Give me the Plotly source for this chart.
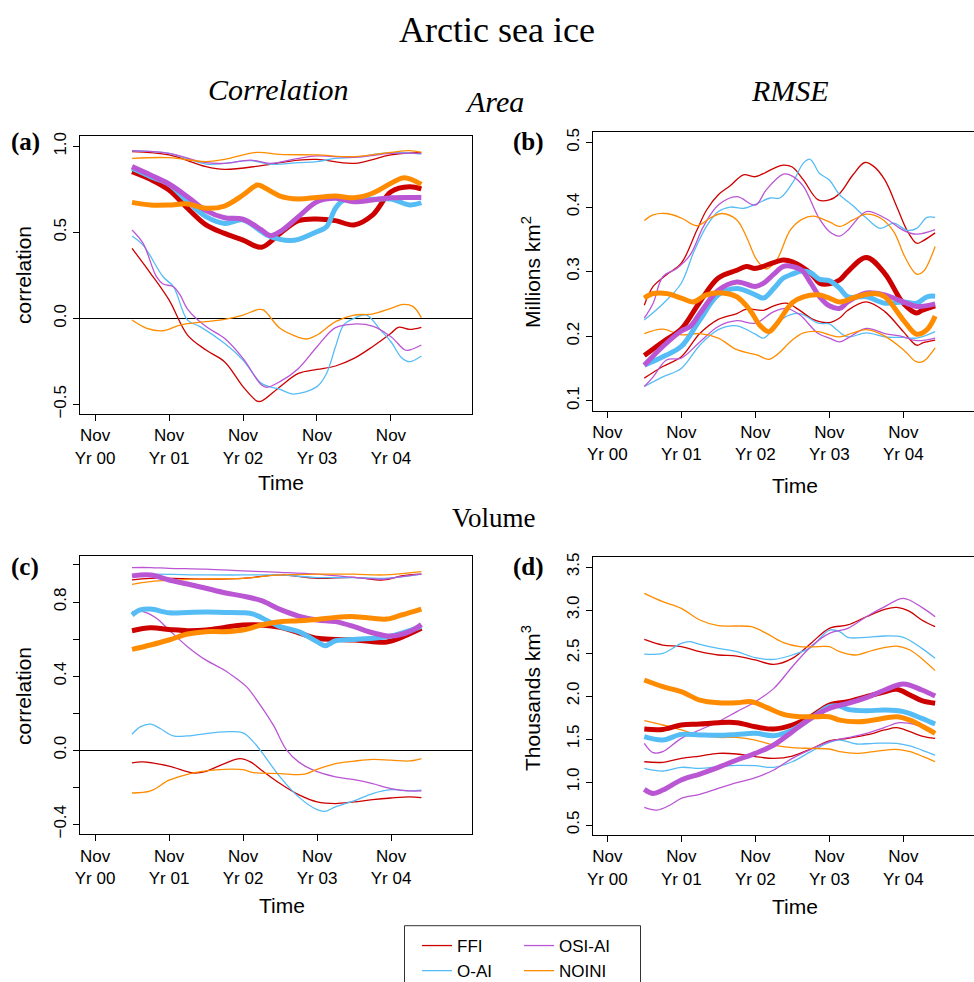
import plotly.graph_objects as go

# ---------------- data (time in years after Nov Yr 00, values) ----------------
# Panel (a): Area correlation
a_ffi_mid = [(0.5,0.853),(0.75,0.808),(1.0,0.746),(1.25,0.64),(1.5,0.543),(1.75,0.494),(2.0,0.455),(2.25,0.413),(2.5,0.494),(2.75,0.568),(3.0,0.578),(3.25,0.568),(3.5,0.543),(3.75,0.60),(4.0,0.736),(4.25,0.765),(4.41,0.752)]
a_ffi_hi = [(0.5,0.969),(1.0,0.95),(1.5,0.882),(1.75,0.866),(2.25,0.888),(2.75,0.92),(3.0,0.924),(3.5,0.901),(4.0,0.95),(4.41,0.965)]
a_ffi_lo = [(0.5,0.407),(0.75,0.262),(1.0,0.107),(1.25,-0.097),(1.5,-0.184),(1.75,-0.252),(2.0,-0.397),(2.19,-0.481),(2.25,-0.481),(2.5,-0.397),(2.75,-0.32),(3.0,-0.297),(3.25,-0.277),(3.5,-0.233),(3.75,-0.165),(4.0,-0.087),(4.1,-0.052),(4.25,-0.064),(4.41,-0.052)]
a_oai_mid = [(0.5,0.872),(0.75,0.824),(1.0,0.779),(1.25,0.678),(1.5,0.591),(1.75,0.552),(2.0,0.572),(2.25,0.504),(2.32,0.485),(2.5,0.459),(2.64,0.452),(2.75,0.459),(3.0,0.504),(3.13,0.533),(3.25,0.64),(3.36,0.688),(3.5,0.694),(3.75,0.692),(4.0,0.694),(4.25,0.659),(4.41,0.672)]
a_oai_hi = [(0.5,0.973),(1.0,0.959),(1.5,0.897),(1.75,0.901),(2.1,0.917),(2.37,0.895),(2.75,0.905),(3.0,0.911),(3.25,0.93),(3.5,0.936),(4.0,0.963),(4.41,0.955)]
a_oai_lo = [(0.5,0.479),(0.65,0.426),(0.92,0.242),(1.06,0.184),(1.25,-0.01),(1.42,-0.048),(1.75,-0.145),(2.0,-0.242),(2.25,-0.378),(2.5,-0.413),(2.68,-0.44),(3.0,-0.397),(3.13,-0.32),(3.25,-0.165),(3.36,-0.039),(3.5,0.0),(3.67,0.019),(3.85,-0.064),(4.0,-0.136),(4.14,-0.227),(4.25,-0.252),(4.41,-0.219)]
a_osi_mid = [(0.5,0.882),(0.75,0.833),(1.0,0.781),(1.25,0.707),(1.5,0.626),(1.75,0.585),(2.0,0.576),(2.25,0.514),(2.37,0.481),(2.5,0.504),(2.75,0.591),(3.0,0.678),(3.25,0.698),(3.5,0.678),(3.75,0.688),(4.0,0.701),(4.25,0.703),(4.41,0.703)]
a_osi_hi = [(0.5,0.975),(1.0,0.959),(1.5,0.905),(1.75,0.901),(2.1,0.92),(2.37,0.901),(2.75,0.93),(3.0,0.944),(3.5,0.936),(4.0,0.959),(4.41,0.959)]
a_osi_lo = [(0.5,0.514),(0.65,0.436),(0.83,0.242),(0.92,0.2),(1.06,0.184),(1.15,0.136),(1.25,0.054),(1.5,-0.048),(1.75,-0.116),(2.0,-0.233),(2.25,-0.388),(2.32,-0.401),(2.5,-0.368),(2.75,-0.291),(3.0,-0.165),(3.25,-0.054),(3.5,-0.033),(3.75,-0.045),(4.0,-0.107),(4.19,-0.184),(4.25,-0.184),(4.41,-0.155)]
a_noi_mid = [(0.5,0.674),(0.75,0.659),(1.0,0.659),(1.25,0.665),(1.5,0.64),(1.75,0.653),(2.0,0.717),(2.19,0.775),(2.25,0.769),(2.5,0.711),(2.75,0.694),(3.0,0.703),(3.25,0.711),(3.5,0.701),(3.75,0.727),(4.0,0.785),(4.18,0.818),(4.41,0.779)]
a_noi_hi = [(0.5,0.93),(1.0,0.934),(1.5,0.911),(1.75,0.924),(2.19,0.965),(2.5,0.953),(3.0,0.95),(3.5,0.94),(4.0,0.965),(4.25,0.975),(4.41,0.965)]
a_noi_lo = [(0.5,-0.01),(0.7,-0.058),(0.92,-0.072),(1.15,-0.039),(1.5,-0.019),(1.75,-0.006),(2.0,0.019),(2.21,0.052),(2.28,0.048),(2.5,-0.058),(2.75,-0.11),(2.86,-0.12),(3.0,-0.097),(3.25,-0.019),(3.5,0.019),(3.75,0.025),(4.0,0.058),(4.17,0.081),(4.3,0.068),(4.41,0.004)]

# Panel (b): Area RMSE (million km2)
b_ffi_mid = [(0.5,0.170),(0.75,0.191),(1.0,0.211),(1.25,0.253),(1.5,0.290),(1.75,0.302),(1.88,0.308),(2.0,0.305),(2.25,0.314),(2.38,0.318),(2.5,0.315),(2.75,0.297),(2.87,0.282),(3.0,0.281),(3.14,0.287),(3.25,0.3),(3.5,0.322),(3.75,0.297),(4.0,0.251),(4.18,0.236),(4.25,0.240),(4.43,0.247)]
b_ffi_hi = [(0.5,0.248),(0.62,0.277),(0.8,0.295),(1.0,0.313),(1.21,0.364),(1.34,0.395),(1.5,0.419),(1.66,0.433),(1.84,0.45),(2.0,0.447),(2.25,0.46),(2.38,0.465),(2.5,0.462),(2.65,0.442),(2.85,0.411),(3.0,0.411),(3.14,0.421),(3.32,0.45),(3.48,0.469),(3.6,0.463),(3.75,0.442),(3.91,0.401),(4.05,0.364),(4.18,0.344),(4.27,0.348),(4.43,0.360)]
b_ffi_lo = [(0.5,0.135),(0.75,0.153),(1.0,0.168),(1.25,0.204),(1.5,0.226),(1.75,0.235),(1.88,0.242),(2.11,0.24),(2.25,0.247),(2.42,0.251),(2.6,0.24),(2.78,0.226),(3.0,0.221),(3.14,0.228),(3.25,0.24),(3.5,0.253),(3.75,0.238),(4.0,0.207),(4.18,0.186),(4.27,0.19),(4.43,0.194)]
b_oai_mid = [(0.5,0.155),(0.75,0.168),(1.0,0.184),(1.25,0.225),(1.5,0.264),(1.75,0.274),(2.0,0.264),(2.11,0.259),(2.25,0.274),(2.38,0.290),(2.5,0.296),(2.63,0.301),(2.75,0.298),(2.87,0.288),(3.0,0.286),(3.14,0.274),(3.25,0.261),(3.5,0.261),(3.75,0.251),(4.0,0.253),(4.18,0.251),(4.32,0.261),(4.43,0.262)]
b_oai_hi = [(0.5,0.225),(0.76,0.251),(1.0,0.282),(1.16,0.328),(1.34,0.370),(1.5,0.393),(1.66,0.40),(1.84,0.398),(2.02,0.405),(2.2,0.414),(2.33,0.414),(2.5,0.437),(2.65,0.468),(2.74,0.474),(2.87,0.452),(3.0,0.442),(3.14,0.419),(3.32,0.402),(3.5,0.383),(3.69,0.367),(3.87,0.375),(4.05,0.364),(4.18,0.367),(4.32,0.384),(4.43,0.384)]
b_oai_lo = [(0.5,0.122),(0.75,0.137),(1.0,0.150),(1.25,0.186),(1.5,0.21),(1.75,0.216),(2.0,0.203),(2.11,0.197),(2.25,0.212),(2.38,0.228),(2.6,0.235),(2.85,0.22),(3.0,0.219),(3.1,0.21),(3.25,0.199),(3.5,0.205),(3.75,0.199),(4.0,0.198),(4.18,0.197),(4.43,0.207)]
b_osi_mid = [(0.5,0.155),(0.75,0.184),(1.0,0.208),(1.12,0.215),(1.25,0.235),(1.5,0.271),(1.75,0.284),(2.0,0.277),(2.11,0.282),(2.25,0.296),(2.38,0.308),(2.5,0.308),(2.63,0.302),(2.75,0.282),(2.87,0.261),(3.0,0.247),(3.14,0.243),(3.25,0.253),(3.5,0.267),(3.75,0.264),(4.0,0.253),(4.18,0.246),(4.43,0.25)]
b_osi_hi = [(0.5,0.228),(0.62,0.251),(0.75,0.292),(0.94,0.305),(1.12,0.326),(1.3,0.37),(1.5,0.403),(1.75,0.416),(2.0,0.403),(2.15,0.427),(2.38,0.451),(2.5,0.448),(2.65,0.432),(2.85,0.385),(3.0,0.362),(3.14,0.355),(3.25,0.364),(3.5,0.393),(3.75,0.383),(4.0,0.364),(4.18,0.358),(4.43,0.365)]
b_osi_lo = [(0.5,0.122),(0.62,0.137),(0.8,0.163),(1.0,0.166),(1.25,0.191),(1.5,0.215),(1.75,0.224),(2.0,0.22),(2.25,0.238),(2.42,0.243),(2.6,0.233),(2.85,0.204),(3.0,0.197),(3.14,0.191),(3.25,0.197),(3.5,0.212),(3.75,0.204),(4.0,0.199),(4.18,0.193),(4.43,0.197)]
b_noi_mid = [(0.5,0.259),(0.62,0.266),(0.8,0.266),(1.0,0.259),(1.16,0.253),(1.34,0.264),(1.55,0.267),(1.75,0.261),(1.93,0.240),(2.06,0.217),(2.18,0.207),(2.29,0.219),(2.5,0.252),(2.65,0.261),(2.85,0.264),(3.0,0.259),(3.14,0.253),(3.37,0.261),(3.6,0.266),(3.75,0.261),(4.0,0.225),(4.18,0.203),(4.32,0.21),(4.43,0.231)]
b_noi_hi = [(0.5,0.379),(0.62,0.388),(0.8,0.39),(1.0,0.383),(1.21,0.371),(1.39,0.383),(1.55,0.39),(1.75,0.38),(1.88,0.354),(2.02,0.318),(2.15,0.304),(2.29,0.318),(2.47,0.364),(2.63,0.381),(2.78,0.386),(3.0,0.377),(3.14,0.37),(3.32,0.38),(3.5,0.389),(3.69,0.383),(3.87,0.362),(4.02,0.323),(4.18,0.296),(4.27,0.3),(4.43,0.339)]
b_noi_lo = [(0.5,0.204),(0.75,0.211),(1.0,0.202),(1.25,0.204),(1.5,0.197),(1.75,0.179),(2.02,0.171),(2.18,0.164),(2.29,0.171),(2.5,0.194),(2.65,0.205),(2.85,0.207),(3.0,0.202),(3.14,0.199),(3.32,0.205),(3.5,0.21),(3.75,0.2),(4.0,0.179),(4.18,0.16),(4.27,0.161),(4.43,0.182)]

# Panel (c): Volume correlation
c_ffi_mid = [(0.5,0.645),(0.75,0.661),(1.0,0.652),(1.25,0.645),(1.5,0.649),(1.75,0.663),(2.0,0.676),(2.25,0.676),(2.5,0.663),(2.75,0.634),(3.0,0.604),(3.25,0.598),(3.5,0.595),(3.75,0.586),(3.94,0.584),(4.14,0.609),(4.41,0.658)]
c_ffi_hi = [(0.5,0.919),(0.75,0.928),(1.5,0.924),(2.0,0.928),(2.5,0.946),(3.0,0.928),(3.5,0.933),(3.9,0.919),(4.14,0.941),(4.41,0.95)]
c_ffi_lo = [(0.5,-0.068),(0.65,-0.063),(1.0,-0.086),(1.33,-0.123),(1.5,-0.114),(1.75,-0.072),(1.96,-0.045),(2.1,-0.063),(2.25,-0.108),(2.5,-0.18),(2.75,-0.24),(3.0,-0.279),(3.25,-0.288),(3.5,-0.279),(3.75,-0.267),(4.0,-0.258),(4.25,-0.252),(4.41,-0.256)]
c_oai_mid = [(0.5,0.73),(0.61,0.757),(0.75,0.762),(1.0,0.742),(1.25,0.744),(1.5,0.746),(1.75,0.744),(2.0,0.742),(2.14,0.735),(2.25,0.715),(2.5,0.667),(2.75,0.64),(3.0,0.586),(3.11,0.564),(3.25,0.591),(3.5,0.598),(3.75,0.604),(4.0,0.616),(4.25,0.645),(4.41,0.67)]
c_oai_hi = [(0.5,0.946),(0.75,0.95),(1.5,0.946),(2.0,0.946),(2.5,0.946),(3.0,0.932),(3.5,0.932),(3.9,0.928),(4.41,0.951)]
c_oai_lo = [(0.5,0.086),(0.61,0.126),(0.75,0.141),(0.88,0.117),(1.06,0.077),(1.25,0.077),(1.5,0.09),(1.75,0.099),(2.0,0.094),(2.14,0.045),(2.25,-0.009),(2.5,-0.144),(2.75,-0.252),(3.0,-0.321),(3.11,-0.33),(3.25,-0.306),(3.5,-0.274),(3.75,-0.234),(4.0,-0.213),(4.25,-0.22),(4.41,-0.216)]
c_osi_mid = [(0.5,0.941),(0.75,0.946),(1.0,0.919),(1.25,0.897),(1.5,0.874),(1.75,0.85),(2.0,0.832),(2.25,0.807),(2.5,0.76),(2.75,0.724),(3.0,0.703),(3.25,0.694),(3.5,0.667),(3.75,0.634),(4.0,0.616),(4.25,0.64),(4.41,0.679)]
c_osi_hi = [(0.5,0.986),(0.75,0.986),(1.0,0.982),(1.5,0.977),(2.0,0.968),(2.5,0.96),(3.0,0.95),(3.5,0.933),(3.9,0.923),(4.14,0.937),(4.41,0.95)]
c_osi_lo = [(0.5,0.748),(0.65,0.748),(0.83,0.712),(1.0,0.649),(1.25,0.559),(1.5,0.486),(1.75,0.432),(1.91,0.387),(2.05,0.342),(2.25,0.234),(2.41,0.135),(2.59,0.0),(2.75,-0.063),(2.95,-0.108),(3.25,-0.144),(3.5,-0.159),(3.75,-0.18),(4.0,-0.207),(4.25,-0.22),(4.41,-0.22)]
c_noi_mid = [(0.5,0.544),(0.75,0.568),(1.0,0.595),(1.25,0.627),(1.5,0.64),(1.75,0.64),(2.0,0.649),(2.25,0.676),(2.5,0.694),(2.75,0.699),(3.0,0.706),(3.25,0.717),(3.5,0.721),(3.75,0.712),(3.94,0.708),(4.14,0.73),(4.41,0.762)]
c_noi_hi = [(0.5,0.895),(0.75,0.91),(1.5,0.924),(2.0,0.928),(2.5,0.946),(3.0,0.95),(3.5,0.95),(3.9,0.946),(4.41,0.964)]
c_noi_lo = [(0.5,-0.231),(0.75,-0.22),(1.0,-0.162),(1.25,-0.13),(1.5,-0.112),(1.75,-0.103),(2.0,-0.105),(2.14,-0.121),(2.5,-0.126),(2.75,-0.132),(2.86,-0.126),(3.0,-0.103),(3.25,-0.072),(3.5,-0.059),(3.75,-0.05),(4.0,-0.054),(4.25,-0.058),(4.41,-0.045)]

# Panel (d): Volume RMSE (thousand km3)
d_ffi_mid = [(0.5,1.616),(0.75,1.612),(1.0,1.663),(1.25,1.674),(1.5,1.69),(1.75,1.69),(2.0,1.643),(2.25,1.616),(2.5,1.663),(2.75,1.76),(3.0,1.895),(3.25,1.934),(3.5,1.992),(3.75,2.05),(3.91,2.078),(4.09,2.012),(4.25,1.946),(4.43,1.915)]
d_ffi_hi = [(0.5,2.659),(0.75,2.593),(1.0,2.574),(1.25,2.516),(1.5,2.477),(1.75,2.465),(2.0,2.419),(2.25,2.368),(2.5,2.438),(2.75,2.612),(3.0,2.787),(3.25,2.826),(3.5,2.922),(3.75,3.008),(3.91,3.031),(4.09,2.981),(4.25,2.884),(4.43,2.806)]
d_ffi_lo = [(0.5,1.236),(0.75,1.229),(1.0,1.275),(1.25,1.302),(1.5,1.333),(1.75,1.326),(2.0,1.295),(2.25,1.275),(2.5,1.302),(2.75,1.384),(3.0,1.477),(3.25,1.508),(3.5,1.547),(3.75,1.605),(3.91,1.632),(4.09,1.585),(4.25,1.535),(4.43,1.508)]
d_oai_mid = [(0.5,1.527),(0.75,1.488),(1.0,1.554),(1.25,1.547),(1.5,1.543),(1.75,1.554),(2.0,1.566),(2.25,1.539),(2.5,1.605),(2.75,1.74),(3.0,1.876),(3.14,1.884),(3.25,1.845),(3.5,1.829),(3.75,1.837),(4.0,1.818),(4.25,1.74),(4.43,1.674)]
d_oai_hi = [(0.5,2.488),(0.75,2.496),(1.0,2.612),(1.12,2.632),(1.25,2.601),(1.5,2.554),(1.75,2.516),(2.0,2.446),(2.25,2.426),(2.5,2.477),(2.75,2.566),(3.0,2.767),(3.14,2.748),(3.25,2.682),(3.5,2.682),(3.75,2.698),(4.0,2.682),(4.25,2.554),(4.43,2.438)]
d_oai_lo = [(0.5,1.159),(0.75,1.128),(1.0,1.171),(1.25,1.159),(1.5,1.178),(1.75,1.194),(2.0,1.19),(2.25,1.171),(2.5,1.236),(2.75,1.353),(3.0,1.461),(3.14,1.488),(3.37,1.442),(3.6,1.45),(3.91,1.45),(4.09,1.419),(4.25,1.372),(4.43,1.314)]
d_osi_mid = [(0.5,0.915),(0.62,0.868),(0.75,0.907),(1.0,1.023),(1.25,1.093),(1.5,1.171),(1.75,1.256),(2.0,1.333),(2.25,1.43),(2.5,1.585),(2.75,1.74),(3.0,1.857),(3.25,1.915),(3.5,1.981),(3.75,2.07),(4.0,2.14),(4.25,2.07),(4.43,2.0)]
d_osi_hi = [(0.5,1.45),(0.62,1.341),(0.75,1.353),(1.0,1.508),(1.25,1.605),(1.5,1.702),(1.75,1.818),(2.0,1.934),(2.25,2.089),(2.5,2.341),(2.75,2.574),(3.0,2.729),(3.25,2.787),(3.5,2.922),(3.75,3.039),(4.0,3.136),(4.25,3.031),(4.43,2.922)]
d_osi_lo = [(0.5,0.705),(0.67,0.674),(0.85,0.733),(1.0,0.81),(1.25,0.857),(1.5,0.926),(1.75,0.992),(2.0,1.05),(2.25,1.14),(2.5,1.275),(2.75,1.38),(3.0,1.469),(3.25,1.516),(3.5,1.566),(3.75,1.636),(3.95,1.69),(4.18,1.663),(4.43,1.585)]
d_noi_mid = [(0.5,2.186),(0.75,2.109),(1.0,2.05),(1.25,1.953),(1.5,1.922),(1.75,1.922),(1.95,1.934),(2.15,1.868),(2.38,1.787),(2.6,1.76),(2.85,1.76),(3.0,1.76),(3.14,1.72),(3.37,1.70),(3.6,1.72),(3.91,1.76),(4.09,1.72),(4.27,1.643),(4.43,1.566)]
d_noi_hi = [(0.5,3.194),(0.75,3.097),(1.0,3.019),(1.25,2.884),(1.5,2.818),(1.75,2.814),(1.95,2.806),(2.15,2.729),(2.38,2.62),(2.6,2.574),(2.85,2.574),(3.0,2.574),(3.14,2.516),(3.35,2.477),(3.6,2.535),(3.91,2.581),(4.09,2.535),(4.27,2.419),(4.43,2.295)]
d_noi_lo = [(0.5,1.713),(0.75,1.663),(1.0,1.605),(1.25,1.547),(1.5,1.519),(1.75,1.519),(2.0,1.488),(2.25,1.43),(2.5,1.399),(2.75,1.391),(3.0,1.384),(3.14,1.353),(3.37,1.333),(3.6,1.353),(3.91,1.38),(4.09,1.353),(4.27,1.295),(4.43,1.236)]

model_names = ["FFI", "O-AI", "OSI-AI", "NOINI"]
tick_years = [0, 1, 2, 3, 4]
tick_labels = ["Nov<br>Yr 00", "Nov<br>Yr 01", "Nov<br>Yr 02", "Nov<br>Yr 03", "Nov<br>Yr 04"]

panels = {
    "a": {"FFI": (a_ffi_mid, a_ffi_hi, a_ffi_lo), "O-AI": (a_oai_mid, a_oai_hi, a_oai_lo),
          "OSI-AI": (a_osi_mid, a_osi_hi, a_osi_lo), "NOINI": (a_noi_mid, a_noi_hi, a_noi_lo)},
    "b": {"FFI": (b_ffi_mid, b_ffi_hi, b_ffi_lo), "O-AI": (b_oai_mid, b_oai_hi, b_oai_lo),
          "OSI-AI": (b_osi_mid, b_osi_hi, b_osi_lo), "NOINI": (b_noi_mid, b_noi_hi, b_noi_lo)},
    "c": {"FFI": (c_ffi_mid, c_ffi_hi, c_ffi_lo), "O-AI": (c_oai_mid, c_oai_hi, c_oai_lo),
          "OSI-AI": (c_osi_mid, c_osi_hi, c_osi_lo), "NOINI": (c_noi_mid, c_noi_hi, c_noi_lo)},
    "d": {"FFI": (d_ffi_mid, d_ffi_hi, d_ffi_lo), "O-AI": (d_oai_mid, d_oai_hi, d_oai_lo),
          "OSI-AI": (d_osi_mid, d_osi_hi, d_osi_lo), "NOINI": (d_noi_mid, d_noi_hi, d_noi_lo)},
}

# ---------------- styling / layout ----------------
W, H = 974, 982
def px(x): return x / W
def py(y): return 1 - y / H

colors = {"FFI": "#CD0000", "O-AI": "#56BCF5", "OSI-AI": "#BA55D3", "NOINI": "#FF8C00"}
legend_of = {"FFI": "legend", "O-AI": "legend", "OSI-AI": "legend2", "NOINI": "legend2"}
SANS = "Liberation Sans, Arial, sans-serif"
SERIF = "Liberation Serif, Times New Roman, serif"

axis_ids = {"a": ("x", "y"), "b": ("x2", "y2"), "c": ("x3", "y3"), "d": ("x4", "y4")}

fig = go.Figure()
for key, models in panels.items():
    xa, ya = axis_ids[key]
    for name in model_names:
        for i, series in enumerate(models[name][1:]):
            show = (key == "a" and i == 0)
            fig.add_trace(go.Scatter(
                x=[p[0] for p in series], y=[p[1] for p in series], mode="lines", name=name,
                line=dict(color=colors[name], width=1.3, shape="spline", smoothing=1.0),
                xaxis=xa, yaxis=ya, showlegend=show, legend=legend_of[name], hoverinfo="skip"))
    for name in model_names:
        series = models[name][0]
        fig.add_trace(go.Scatter(
            x=[p[0] for p in series], y=[p[1] for p in series], mode="lines",
            line=dict(color=colors[name], width=5, shape="spline", smoothing=1.0),
            xaxis=xa, yaxis=ya, showlegend=False, name=name))

def xaxis_cfg(domain, rng, anchor):
    return dict(domain=domain, range=rng, anchor=anchor, tickvals=tick_years, ticktext=tick_labels,
                ticks="outside", ticklen=6, tickwidth=1, tickcolor="black",
                showline=True, linecolor="black", linewidth=1, mirror=True,
                showgrid=False, zeroline=False,
                tickfont=dict(family=SANS, size=17, color="black"))

def yaxis_cfg(domain, rng, anchor, vals, texts, mirror, zero):
    return dict(domain=domain, range=rng, anchor=anchor, tickvals=vals, ticktext=texts,
                tickangle=-90, ticks="outside", ticklen=6, tickwidth=1, tickcolor="black",
                showline=True, linecolor="black", linewidth=1, mirror=mirror,
                showgrid=False, zeroline=zero, zerolinecolor="black", zerolinewidth=1,
                tickfont=dict(family=SANS, size=17, color="black"))

y3 = yaxis_cfg([py(834.3), py(555.7)], [-0.454, 1.050], "x3",
               [-0.4, 0, 0.4, 0.8], ["\u22120.4", "0.0", "0.4", "0.8"], True, True)
y3["minor"] = dict(tickvals=[-0.2, 0.2, 0.6, 1.0], ticks="outside", ticklen=6, tickwidth=1,
                   tickcolor="black", showgrid=False)

fig.update_layout(
    width=W, height=H, margin=dict(l=0, r=0, t=0, b=0, autoexpand=False),
    paper_bgcolor="white", plot_bgcolor="white",
    xaxis=xaxis_cfg([px(80), px(472.3)], [-0.203, 5.099], "y"),
    yaxis=yaxis_cfg([py(414), py(136)], [-0.556, 1.06], "x",
                    [-0.5, 0, 0.5, 1.0], ["\u22120.5", "0.0", "0.5", "1.0"], True, True),
    xaxis2=xaxis_cfg([px(592.7), 1.0], [-0.197, 4.955], "y2"),
    yaxis2=yaxis_cfg([py(410.7), py(132.3)], [0.0845, 0.5158], "x2",
                     [0.1, 0.2, 0.3, 0.4, 0.5], ["0.1", "0.2", "0.3", "0.4", "0.5"], False, False),
    xaxis3=xaxis_cfg([px(80), px(471.7)], [-0.203, 5.09], "y3"),
    yaxis3=y3,
    xaxis4=xaxis_cfg([px(592.7), 1.0], [-0.197, 4.955], "y4"),
    yaxis4=yaxis_cfg([py(835), py(556.7)], [0.384, 3.62], "x4",
                     [0.5, 1.0, 1.5, 2.0, 2.5, 3.0, 3.5],
                     ["0.5", "1.0", "1.5", "2.0", "2.5", "3.0", "3.5"], False, False),
    legend=dict(x=px(417), y=py(928), xanchor="left", yanchor="top", bgcolor="rgba(0,0,0,0)",
                font=dict(family=SANS, size=17, color="black"), tracegroupgap=0, itemwidth=30),
    legend2=dict(x=px(519), y=py(928), xanchor="left", yanchor="top", bgcolor="rgba(0,0,0,0)",
                 font=dict(family=SANS, size=17, color="black"), tracegroupgap=0, itemwidth=30),
    showlegend=True,
)

# legend box
fig.add_shape(type="rect", xref="paper", yref="paper", x0=px(404.5), x1=px(640.5), y0=py(990), y1=py(925.7),
              line=dict(color="#333333", width=1), fillcolor="rgba(0,0,0,0)")

annos = [
    ("Arctic sea ice", 497, 30, SERIF, 36, False),
    ("<i>Correlation</i>", 278, 89, SERIF, 30, False),
    ("<i>Area</i>", 494, 101, SERIF, 30, False),
    ("<i>RMSE</i>", 790, 90, SERIF, 30, False),
    ("Volume", 494, 518, SERIF, 27, False),
    ("<b>(a)</b>", 25, 142, SERIF, 25, False),
    ("<b>(b)</b>", 528, 142, SERIF, 25, False),
    ("<b>(c)</b>", 25, 567, SERIF, 25, False),
    ("<b>(d)</b>", 528, 567, SERIF, 25, False),
    ("Time", 281, 482, SANS, 21, False),
    ("Time", 795, 485, SANS, 21, False),
    ("Time", 282, 905, SANS, 21, False),
    ("Time", 795, 906, SANS, 21, False),
    ("correlation", 23, 275, SANS, 21, True),
    ("Millions km<sup>2</sup>", 531, 272, SANS, 21, True),
    ("correlation", 23, 696, SANS, 21, True),
    ("Thousands km<sup>3</sup>", 531, 698, SANS, 21, True),
]
for text, x, y, fam, size, rot in annos:
    fig.add_annotation(text=text, x=px(x), y=py(y), xref="paper", yref="paper",
                       xanchor="center", yanchor="middle", showarrow=False,
                       textangle=-90 if rot else 0,
                       font=dict(family=fam, size=size, color="black"))

fig.write_html("out.html")
